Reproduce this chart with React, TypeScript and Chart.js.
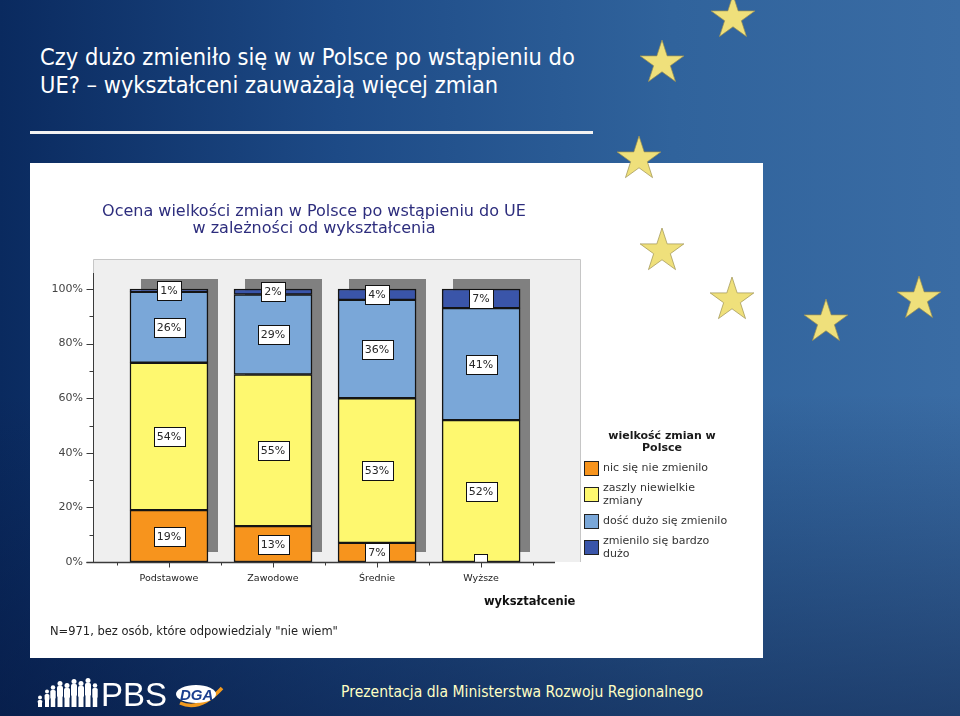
import React, { useEffect, useLayoutEffect, useRef, useState } from 'react';
import { Chart, registerables } from 'chart.js';

Chart.register(...registerables);

const FONT = '"DejaVu Sans", Verdana, sans-serif';

// ---- data ----
const categories = ['Podstawowe', 'Zawodowe', 'Średnie', 'Wyższe'];
const seriesLabels = [
  'nic się nie zmienilo',
  'zaszly niewielkie\nzmiany',
  'dość dużo się zmienilo',
  'zmienilo się bardzo\ndużo',
];
const nicSieNieZmienilo = [19, 13, 7, 0];
const zaszlyNiewielkieZmiany = [54, 55, 53, 52];
const doscDuzoSieZmienilo = [26, 29, 36, 41];
const zmieniloSieBardzoDuzo = [1, 2, 4, 7];
const seriesValues = [nicSieNieZmienilo, zaszlyNiewielkieZmiany, doscDuzoSieZmienilo, zmieniloSieBardzoDuzo];
const yTickValues = [0, 10, 20, 30, 40, 50, 60, 70, 80, 90, 100];
const yTickLabels = ['0%', '', '20%', '', '40%', '', '60%', '', '80%', '', '100%'];

// ---- texts ----
const chartTitle = ['Ocena wielkości zmian w Polsce po wstąpieniu do UE', 'w zależności od wykształcenia'];
const legendTitle = ['wielkość zmian w', 'Polsce'];
const xAxisTitle = 'wykształcenie';
const noteText = 'N=971, bez osób, które odpowiedzialy "nie wiem"';
const slideTitle = ['Czy dużo zmieniło się w w Polsce po wstąpieniu do', 'UE? – wykształceni zauważają więcej zmian'];
const footerText = 'Prezentacja dla Ministerstwa Rozwoju Regionalnego';

// ---- styles ----
const seriesColors = ['#f7941d', '#fef86f', '#7aa7d8', '#3a55a9'];
const starCenters = [
  [733, 18], [662, 63], [639, 159], [662, 251], [732, 300], [826, 322], [919, 299],
];

function FitText(props: { text: string; left: number; top: number; width: number; style: React.CSSProperties }) {
  const ref = useRef<HTMLSpanElement>(null);
  const [scale, setScale] = useState(1);
  useLayoutEffect(() => {
    if (ref.current) {
      const w = ref.current.offsetWidth;
      if (w) setScale(props.width / w);
    }
  }, [props.text, props.width]);
  return (
    <span
      ref={ref}
      style={{
        position: 'absolute',
        left: props.left,
        top: props.top,
        whiteSpace: 'nowrap',
        transformOrigin: '0 0',
        transform: `scaleX(${scale})`,
        ...props.style,
      }}
    >
      {props.text}
    </span>
  );
}

function starPoints(cx: number, cy: number, R: number) {
  const r = R * 0.382;
  const pts: string[] = [];
  for (let i = 0; i < 10; i++) {
    const a = ((-90 + i * 36) * Math.PI) / 180;
    const rad = i % 2 === 0 ? R : r;
    pts.push(`${(cx + rad * Math.cos(a)).toFixed(2)},${(cy + rad * Math.sin(a)).toFixed(2)}`);
  }
  return pts.join(' ');
}

function ChartPanel() {
  const canvasRef = useRef<HTMLCanvasElement>(null);

  useEffect(() => {
    if (!canvasRef.current) return;
    const totals = categories.map((_, i) => seriesValues.reduce((s, arr) => s + arr[i], 0));

    const datasets = seriesValues.map((vals, k) => ({
      label: seriesLabels[k].replace('\n', ' '),
      data: vals.map((v, i) => ({ x: i, y: (v / totals[i]) * 100 })),
      backgroundColor: seriesColors[k],
      borderColor: '#141414',
      borderWidth: 1.5,
      borderSkipped: false as any,
      barThickness: 78,
    }));

    const bgPlugin = {
      id: 'plotBg',
      beforeDraw(chart: any) {
        const { ctx, chartArea } = chart;
        const xs = chart.scales.x;
        const right = Math.round(xs.getPixelForValue(3.95)) + 0.5;
        const left = Math.round(chartArea.left) + 0.5;
        const top = Math.round(chartArea.top) + 0.5;
        const bottom = Math.round(chartArea.bottom);
        ctx.save();
        ctx.fillStyle = '#efefef';
        ctx.fillRect(left, top, right - left, bottom - top);
        ctx.strokeStyle = '#c6c6c6';
        ctx.lineWidth = 1;
        ctx.beginPath();
        ctx.moveTo(left, bottom);
        ctx.lineTo(left, top);
        ctx.lineTo(right, top);
        ctx.lineTo(right, bottom);
        ctx.stroke();
        ctx.restore();
      },
    };

    const shadowPlugin = {
      id: 'barShadow',
      beforeDatasetsDraw(chart: any) {
        const { ctx } = chart;
        const ys = chart.scales.y;
        const meta = chart.getDatasetMeta(0);
        const top = ys.getPixelForValue(100);
        const bottom = ys.getPixelForValue(0);
        ctx.save();
        ctx.fillStyle = '#808080';
        meta.data.forEach((el: any) => {
          const w = el.width;
          const l = el.x - w / 2 + 11;
          ctx.fillRect(Math.round(l), Math.round(top - 10), Math.round(w - 1), Math.round(bottom - top));
        });
        ctx.restore();
      },
    };

    const labelsAxesPlugin = {
      id: 'labelsAxes',
      afterDatasetsDraw(chart: any) {
        const { ctx, chartArea } = chart;
        const xs = chart.scales.x;
        const ys = chart.scales.y;
        ctx.save();
        // value boxes
        ctx.font = `11px ${FONT}`;
        ctx.textAlign = 'center';
        ctx.textBaseline = 'middle';
        seriesValues.forEach((vals, k) => {
          const meta = chart.getDatasetMeta(k);
          meta.data.forEach((el: any, i: number) => {
            const v = vals[i];
            const cx = Math.round(el.x);
            const cy = (el.y + el.base) / 2;
            if (v === 0) {
              ctx.save();
              ctx.beginPath();
              ctx.rect(chartArea.left, chartArea.top, chartArea.right - chartArea.left, chartArea.bottom - chartArea.top);
              ctx.clip();
              ctx.fillStyle = '#ffffff';
              ctx.strokeStyle = '#111';
              ctx.lineWidth = 1;
              ctx.fillRect(cx - 6.5, Math.round(el.base) - 7.5, 13, 14);
              ctx.strokeRect(cx - 6.5, Math.round(el.base) - 7.5, 13, 14);
              ctx.restore();
              return;
            }
            const txt = v + '%';
            const tw = ctx.measureText(txt).width;
            const bw = Math.round(tw + 7);
            const bh = 19;
            const bx = Math.round(cx - bw / 2) + 0.5;
            const by = Math.round(cy - bh / 2) + 0.5;
            ctx.fillStyle = '#ffffff';
            ctx.fillRect(bx, by, bw, bh);
            ctx.strokeStyle = '#111';
            ctx.lineWidth = 1;
            ctx.strokeRect(bx, by, bw, bh);
            ctx.fillStyle = '#262626';
            ctx.fillText(txt, cx, by + bh / 2 + 0.5);
          });
        });
        // axes
        const ax = Math.round(chartArea.left) + 0.5;
        const ay = Math.round(chartArea.bottom) + 0.5;
        ctx.strokeStyle = '#3a3a3a';
        ctx.lineWidth = 1;
        ctx.beginPath();
        ctx.moveTo(ax, Math.round(ys.getPixelForValue(106)));
        ctx.lineTo(ax, ay);
        ctx.stroke();
        yTickValues.forEach((v) => {
          const py = Math.round(ys.getPixelForValue(v)) + 0.5;
          const len = v % 20 === 0 ? 7 : 4;
          ctx.beginPath();
          ctx.moveTo(ax - len, py);
          ctx.lineTo(ax, py);
          ctx.stroke();
        });
        ctx.lineWidth = 1.5;
        ctx.beginPath();
        ctx.moveTo(ax - 7, ay);
        ctx.lineTo(Math.round(chartArea.right), ay);
        ctx.stroke();
        ctx.lineWidth = 1;
        categories.forEach((_, i) => {
          const px = Math.round(xs.getPixelForValue(i)) + 0.5;
          ctx.beginPath();
          ctx.moveTo(px, ay);
          ctx.lineTo(px, ay + 5);
          ctx.stroke();
        });
        for (let i = -0.5; i <= categories.length - 0.5; i += 1) {
          const px = Math.round(xs.getPixelForValue(i)) + 0.5;
          ctx.beginPath();
          ctx.moveTo(px, ay);
          ctx.lineTo(px, ay + 3);
          ctx.stroke();
        }
        ctx.restore();
      },
    };

    const textPlugin = {
      id: 'texts',
      afterDraw(chart: any) {
        const { ctx } = chart;
        ctx.save();
        // chart title
        ctx.fillStyle = '#2d2d7d';
        ctx.font = `16px ${FONT}`;
        ctx.textAlign = 'center';
        ctx.textBaseline = 'middle';
        ctx.fillText(chartTitle[0], 284, 49);
        ctx.fillText(chartTitle[1], 284, 66);
        // legend
        ctx.fillStyle = '#1a1a1a';
        ctx.font = `bold 11px ${FONT}`;
        ctx.fillText(legendTitle[0], 632, 273);
        ctx.fillText(legendTitle[1], 632, 285);
        ctx.font = `11px ${FONT}`;
        ctx.textAlign = 'left';
        let y = 305;
        seriesLabels.forEach((lab, k) => {
          const lines = lab.split('\n');
          const center = y + ((lines.length - 1) * 13) / 2;
          const by = Math.round(center - 7.5) + 0.5;
          ctx.fillStyle = seriesColors[k];
          ctx.fillRect(554.5, by, 14, 14);
          ctx.strokeStyle = '#222';
          ctx.lineWidth = 1;
          ctx.strokeRect(554.5, by, 14, 14);
          ctx.fillStyle = '#333';
          lines.forEach((ln, j) => ctx.fillText(ln, 573, y + j * 13));
          y += (lines.length - 1) * 13 + 20;
        });
        // axis title
        ctx.fillStyle = '#111';
        ctx.font = `bold 11.5px ${FONT}`;
        ctx.fillText(xAxisTitle, 454, 439);
        // note
        ctx.fillStyle = '#222';
        ctx.font = `11.5px ${FONT}`;
        ctx.fillText(noteText, 20, 469);
        ctx.restore();
      },
    };

    const chart = new Chart(canvasRef.current, {
      type: 'bar',
      data: { datasets: datasets as any },
      options: {
        animation: false,
        responsive: false,
        devicePixelRatio: 1,
        layout: { padding: { left: 3, right: 208, top: 96, bottom: 66 } },
        plugins: { legend: { display: false }, tooltip: { enabled: false }, title: { display: false } },
        scales: {
          x: {
            type: 'linear',
            offset: false,
            stacked: true,
            min: -0.73,
            max: 3.71,
            afterBuildTicks: (s: any) => {
              s.ticks = categories.map((_, i) => ({ value: i }));
            },
            afterFit: (s: any) => {
              s.height = 30;
            },
            ticks: {
              autoSkip: false,
              maxRotation: 0,
              padding: 11,
              color: '#222',
              font: { family: FONT, size: 9.5 },
              callback: (_v: any, idx: number) => categories[idx] ?? '',
            },
            grid: { display: false, drawTicks: false, offset: false },
            border: { display: false },
          },
          y: {
            stacked: true,
            min: 0,
            max: 111,
            afterBuildTicks: (s: any) => {
              s.ticks = yTickValues.map((v) => ({ value: v }));
            },
            afterFit: (s: any) => {
              s.width = 60;
            },
            ticks: {
              autoSkip: false,
              padding: 10,
              color: '#444',
              font: { family: FONT, size: 11 },
              callback: (_v: any, idx: number) => yTickLabels[idx] ?? '',
            },
            grid: { display: false, drawTicks: false },
            border: { display: false },
          },
        },
      } as any,
      plugins: [bgPlugin, shadowPlugin, labelsAxesPlugin, textPlugin],
    });
    return () => chart.destroy();
  }, []);

  return (
    <canvas
      ref={canvasRef}
      width={733}
      height={495}
      style={{ position: 'absolute', left: 30, top: 163, width: 733, height: 495, background: '#ffffff' }}
    />
  );
}

function Logo() {
  const figs = [
    [40, 700, 4, 6], [47, 694, 4, 12], [53, 690, 4.5, 16], [60, 686, 5, 20], [67, 688, 5, 18],
    [74, 684, 5, 22], [81, 686, 5, 20], [88, 683, 5, 23], [95, 688, 4.5, 18],
  ];
  return (
    <svg width={960} height={716} style={{ position: 'absolute', left: 0, top: 0 }}>
      {figs.map(([x, y, w, h], i) => (
        <g key={i} fill="#ffffff">
          <circle cx={x} cy={y - 2.5} r={w * 0.5} />
          <rect x={x - w * 0.6} y={y} width={w * 1.2} height={h * 0.55} rx={1.5} />
          <rect x={x - w * 0.5} y={y + h * 0.5} width={w} height={707 - (y + h * 0.5)} />
        </g>
      ))}
      <text x={101} y={706} fill="#ffffff" fontFamily="'Liberation Sans', Arial, sans-serif" fontSize={33}>
        PBS
      </text>
      <path d="M180 703 Q 200 712 222 688" stroke="#f29a1e" strokeWidth={3.5} fill="none" />
      <ellipse cx={196} cy={694} rx={20} ry={9} fill="#ffffff" />
      <text
        x={180}
        y={700}
        fill="#1c3f8f"
        fontFamily="'Liberation Sans', Arial, sans-serif"
        fontStyle="italic"
        fontWeight="bold"
        fontSize={15}
      >
        DGA
      </text>
    </svg>
  );
}

export default function App() {
  return (
    <div
      style={{
        position: 'fixed',
        left: 0,
        top: 0,
        width: 960,
        height: 716,
        overflow: 'hidden',
        background:
          'linear-gradient(to bottom, rgba(0,0,0,0) 0%, rgba(0,0,0,0) 55%, rgba(5,20,58,0.5) 100%), linear-gradient(to right, #0a2a5f 0%, #1d4a86 35%, #30639c 70%, #3a6ca4 100%)',
      }}
    >
      <FitText
        text={slideTitle[0]}
        left={40}
        top={45.6}
        width={535}
        style={{ color: '#ffffff', fontFamily: FONT, fontSize: 23, lineHeight: '23px' }}
      />
      <FitText
        text={slideTitle[1]}
        left={40}
        top={73.6}
        width={458}
        style={{ color: '#ffffff', fontFamily: FONT, fontSize: 23, lineHeight: '23px' }}
      />
      <div style={{ position: 'absolute', left: 30, top: 131, width: 563, height: 3, background: '#f2f2f2' }} />
      <ChartPanel />
      <FitText
        text={footerText}
        left={341}
        top={683.5}
        width={362}
        style={{ color: '#ffffc4', fontFamily: FONT, fontSize: 16, lineHeight: '16px' }}
      />
      <Logo />
      <svg width={960} height={716} style={{ position: 'absolute', left: 0, top: 0, pointerEvents: 'none' }}>
        {starCenters.map(([x, y], i) => (
          <polygon key={i} points={starPoints(x, y, 23)} fill="#efe07b" stroke="#9c9150" strokeWidth={0.7} />
        ))}
      </svg>
    </div>
  );
}
